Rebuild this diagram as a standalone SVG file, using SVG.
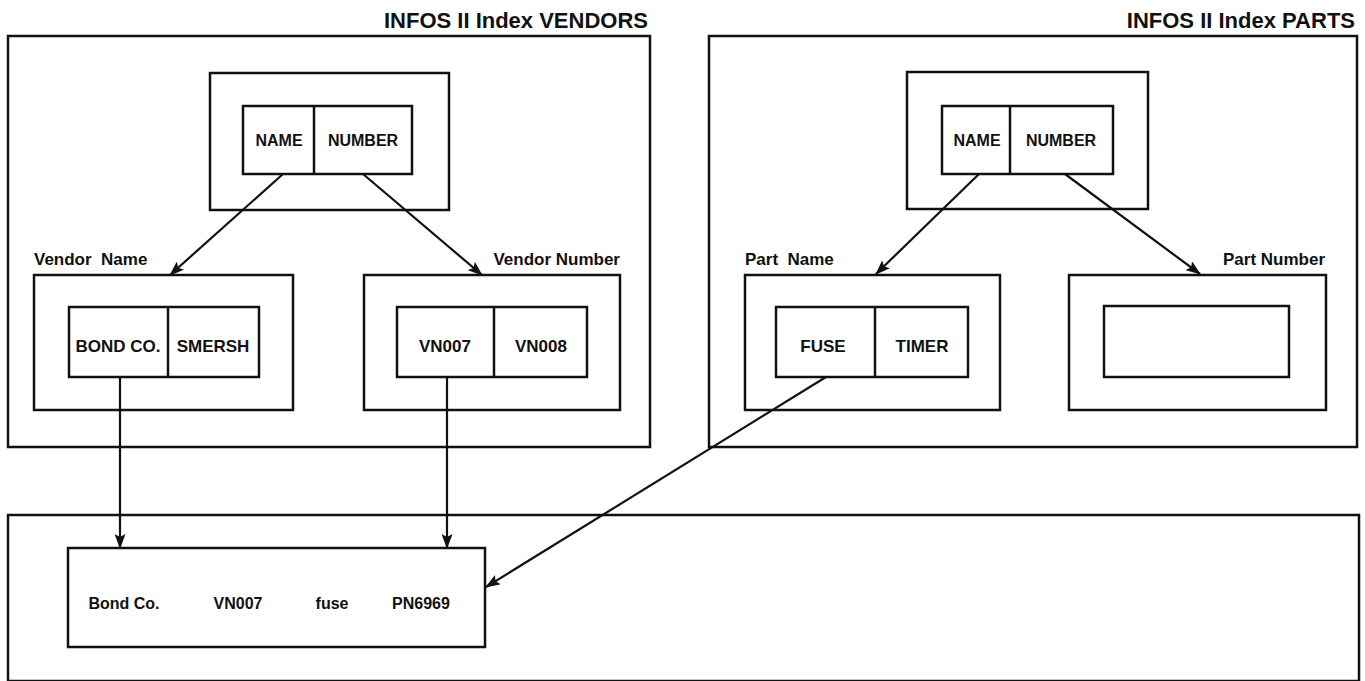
<svg xmlns="http://www.w3.org/2000/svg" width="1365" height="681" viewBox="0 0 1365 681">
<defs>
<style>
.box{fill:none;stroke:#111;stroke-width:2.5}
.ln{fill:none;stroke:#111;stroke-width:2.2}
.t{font-family:"Liberation Sans",Arial,sans-serif;font-weight:bold;font-size:17px;fill:#111}
.s{font-size:16px}
.c{text-anchor:middle}
.title{font-family:"Liberation Sans",Arial,sans-serif;font-weight:bold;font-size:22px;fill:#111;text-anchor:end}
</style>
<marker id="ah" markerWidth="15" markerHeight="11" refX="14" refY="5.5" orient="auto" markerUnits="userSpaceOnUse">
<path d="M0,0 L15,5.5 L0,11 L3,5.5 Z" fill="#111"/>
</marker>
</defs>
<rect width="1365" height="681" fill="#fff"/>

<g id="vendors-index">
<text class="title" x="648" y="28">INFOS II Index VENDORS</text>
<rect class="box" x="8" y="36" width="642" height="411"/>
</g>
<g id="vendors-root">
<rect class="box" x="210" y="73" width="239" height="137"/>
<rect class="box" x="243" y="106" width="169" height="68"/>
<line class="box" x1="314" y1="106" x2="314" y2="174"/>
<text class="t c s" x="279" y="146">NAME</text>
<text class="t c s" x="363" y="146">NUMBER</text>
</g>
<g id="vendor-name">
<text class="t" x="34" y="265">Vendor&#160; Name</text>
<rect class="box" x="34" y="275" width="259" height="135"/>
<rect class="box" x="69" y="307" width="190" height="70"/>
<line class="box" x1="168" y1="307" x2="168" y2="377"/>
<text class="t c" x="118" y="352">BOND CO.</text>
<text class="t c" x="213" y="352">SMERSH</text>
</g>
<g id="vendor-number">
<text class="t" x="620" y="265" text-anchor="end">Vendor Number</text>
<rect class="box" x="364" y="275" width="256" height="135"/>
<rect class="box" x="397" y="307" width="190" height="70"/>
<line class="box" x1="494" y1="307" x2="494" y2="377"/>
<text class="t c" x="445" y="352">VN007</text>
<text class="t c" x="541" y="352">VN008</text>
</g>

<g id="parts-index">
<text class="title" x="1355" y="28">INFOS II Index PARTS</text>
<rect class="box" x="709" y="36" width="648" height="411"/>
</g>
<g id="parts-root">
<rect class="box" x="907" y="72" width="241" height="137"/>
<rect class="box" x="942" y="106" width="171" height="68"/>
<line class="box" x1="1010" y1="106" x2="1010" y2="174"/>
<text class="t c s" x="977" y="146">NAME</text>
<text class="t c s" x="1061" y="146">NUMBER</text>
</g>
<g id="part-name">
<text class="t" x="745" y="265">Part&#160; Name</text>
<rect class="box" x="745" y="275" width="255" height="135"/>
<rect class="box" x="776" y="307" width="192" height="70"/>
<line class="box" x1="875" y1="307" x2="875" y2="377"/>
<text class="t c" x="823" y="352" font-weight="normal">FUSE</text>
<text class="t c" x="922" y="352" font-weight="normal">TIMER</text>
</g>
<g id="part-number">
<text class="t" x="1325" y="265" text-anchor="end">Part Number</text>
<rect class="box" x="1069" y="275" width="257" height="135"/>
<rect class="box" x="1104" y="306" width="185" height="71"/>
</g>

<g id="data-file">
<rect class="box" x="8" y="515" width="1351" height="166"/>
</g>
<g id="record">
<rect class="box" x="68" y="548" width="417" height="99"/>
<text class="t c s" x="124" y="609">Bond Co.</text>
<text class="t c s" x="238" y="609">VN007</text>
<text class="t c s" x="332" y="609">fuse</text>
<text class="t c s" x="421" y="609">PN6969</text>
</g>

<g id="connectors">
<line class="ln" x1="283" y1="174" x2="170" y2="275" marker-end="url(#ah)"/>
<line class="ln" x1="363" y1="174" x2="482" y2="275" marker-end="url(#ah)"/>
<line class="ln" x1="979" y1="174" x2="876" y2="274" marker-end="url(#ah)"/>
<line class="ln" x1="1065" y1="174" x2="1200" y2="274" marker-end="url(#ah)"/>
<line class="ln" x1="120" y1="377" x2="120" y2="548" marker-end="url(#ah)"/>
<line class="ln" x1="447" y1="377" x2="447" y2="548" marker-end="url(#ah)"/>
<line class="ln" x1="826" y1="377" x2="486" y2="587" marker-end="url(#ah)"/>
</g>
</svg>
